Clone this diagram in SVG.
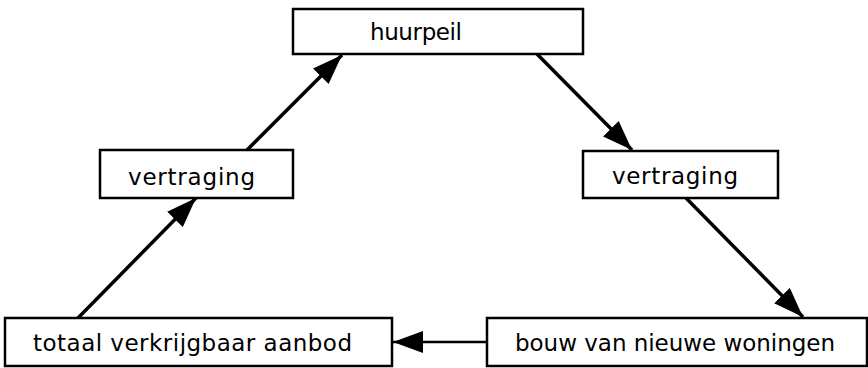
<svg xmlns="http://www.w3.org/2000/svg" width="868" height="368" viewBox="0 0 868 368">
<style>
.box{fill:#fff;stroke:#000;stroke-width:2.5}
.lbl{font-family:"DejaVu Sans","Liberation Sans",sans-serif;font-size:23px;fill:#000}
.con{stroke:#000;stroke-width:3.5;fill:none}
</style>
<defs>
<marker id="ahb" viewBox="0 0 30 22" refX="30" refY="11" markerWidth="30" markerHeight="22" orient="auto" markerUnits="userSpaceOnUse">
<path d="M0,0 L30,11 L0,22 Z" fill="#000"/>
</marker>
</defs>
<g id="huurpeil"><rect class="box" x="293" y="9" width="290" height="45"/><text class="lbl" x="370" y="40" textLength="92" lengthAdjust="spacing">huurpeil</text></g>
<g id="vertraging-links"><rect class="box" x="100" y="150" width="193" height="48"/><text class="lbl" x="128" y="185" textLength="127" lengthAdjust="spacing">vertraging</text></g>
<g id="vertraging-rechts"><rect class="box" x="583" y="151" width="195" height="47"/><text class="lbl" x="612" y="184" textLength="126" lengthAdjust="spacing">vertraging</text></g>
<g id="aanbod"><rect class="box" x="5" y="318" width="387" height="48"/><text class="lbl" x="33" y="351" textLength="319" lengthAdjust="spacing">totaal verkrijgbaar aanbod</text></g>
<g id="bouw"><rect class="box" x="487" y="318" width="380" height="48"/><text class="lbl" x="515" y="351" textLength="320" lengthAdjust="spacing">bouw van nieuwe woningen</text></g>
<g id="connectors">
<line class="con" x1="247" y1="150" x2="342" y2="55" marker-end="url(#ahb)"/>
<line class="con" x1="78" y1="318" x2="196" y2="198" marker-end="url(#ahb)"/>
<line class="con" x1="537" y1="54" x2="632" y2="150" marker-end="url(#ahb)"/>
<line class="con" x1="686" y1="198" x2="803" y2="317" marker-end="url(#ahb)"/>
<line class="con" style="stroke-width:2.5" x1="487" y1="342" x2="393" y2="342" marker-end="url(#ahb)"/>
</g>
</svg>
